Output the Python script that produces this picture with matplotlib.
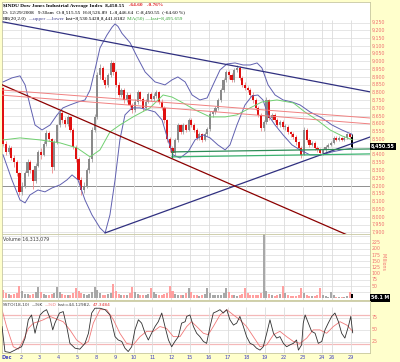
import matplotlib
matplotlib.use("Agg")
import matplotlib.pyplot as plt
import matplotlib.transforms as mtransforms
import numpy as np

W, H = 400, 362

# hourly bars, Dec 1 2008 .. Dec 29 2008
day_labels = ["Dec", "2", "3", "4", "5", "8", "9", "10", "11", "12", "15", "16",
              "17", "18", "19", "22", "23", "24", "26", "29"]
day_start = [0, 7, 14, 21, 28, 35, 42, 49, 56, 63, 70, 77, 84, 91, 98, 105,
             112, 119, 123, 130]

first_open = 8829
closes = [8470, 8420, 8440, 8380, 8350, 8280, 8160,
          8200, 8280, 8350, 8300, 8230, 8330, 8420,
          8400, 8470, 8540, 8500, 8320, 8480, 8590,
          8670, 8620, 8600, 8640, 8560, 8450, 8370,
          8240, 8170, 8200, 8300, 8370, 8560, 8640,
          8910, 8960, 8880, 8850, 8910, 8990, 8930,
          8850, 8785, 8815, 8750, 8785, 8720, 8690,
          8740, 8800, 8760, 8700, 8740, 8790, 8760,
          8780, 8800, 8740, 8700, 8620, 8500, 8440,
          8410, 8495, 8590, 8545, 8590, 8560, 8620,
          8590, 8560, 8510, 8530, 8495, 8530, 8565,
          8660, 8675, 8700, 8750, 8815, 8880, 8930,
          8910, 8880, 8945, 8960, 8895, 8850, 8830,
          8815, 8785, 8750, 8700, 8655, 8570, 8610,
          8750, 8635, 8655, 8625, 8590, 8610, 8580,
          8580, 8545, 8530, 8515, 8480, 8445, 8400,
          8560, 8495, 8465, 8475, 8445, 8430, 8410,
          8430, 8450, 8465, 8475,
          8510, 8495, 8510, 8495, 8510, 8530, 8515,
          8450.55]
highs = [8835, 8490, 8460, 8455, 8400, 8365, 8290,
         8225, 8295, 8370, 8365, 8310, 8345, 8430,
         8440, 8485, 8560, 8555, 8510, 8495, 8600,
         8690, 8685, 8640, 8655, 8650, 8570, 8465,
         8385, 8255, 8225, 8315, 8385, 8575, 8660,
         8930, 8985, 8970, 8900, 8925, 9010, 9000,
         8945, 8870, 8830, 8830, 8800, 8795, 8735,
         8755, 8815, 8810, 8770, 8755, 8805, 8800,
         8795, 8815, 8810, 8755, 8710, 8630, 8515,
         8455, 8510, 8605, 8600, 8605, 8600, 8635,
         8635, 8605, 8570, 8545, 8540, 8545, 8580,
         8680, 8690, 8715, 8765, 8830, 8895, 8945,
         8945, 8925, 8955, 8980, 8970, 8905, 8865,
         8845, 8830, 8800, 8765, 8715, 8665, 8625,
         8770, 8760, 8670, 8665, 8635, 8625, 8620,
         8595, 8590, 8555, 8545, 8525, 8490, 8455,
         8575, 8570, 8505, 8490, 8485, 8455, 8440,
         8440, 8460, 8475, 8485,
         8520, 8520, 8520, 8515, 8520, 8540, 8535,
         8530]
lows = [8455, 8400, 8405, 8365, 8320, 8260, 8140,
        8140, 8185, 8265, 8285, 8180, 8215, 8320,
        8370, 8390, 8455, 8485, 8280, 8300, 8470,
        8580, 8605, 8580, 8585, 8545, 8435, 8350,
        8215, 8140, 8155, 8185, 8285, 8355, 8545,
        8630, 8890, 8865, 8830, 8835, 8900, 8915,
        8835, 8770, 8770, 8735, 8740, 8705, 8670,
        8675, 8725, 8745, 8680, 8685, 8730, 8745,
        8745, 8765, 8725, 8685, 8605, 8480, 8420,
        8380, 8395, 8480, 8530, 8530, 8545, 8550,
        8575, 8545, 8495, 8495, 8480, 8485, 8520,
        8555, 8640, 8660, 8690, 8740, 8800, 8865,
        8890, 8865, 8870, 8930, 8880, 8835, 8815,
        8800, 8770, 8735, 8685, 8640, 8550, 8555,
        8600, 8620, 8620, 8610, 8575, 8575, 8565,
        8560, 8535, 8515, 8500, 8465, 8430, 8380,
        8395, 8480, 8450, 8455, 8430, 8415, 8395,
        8400, 8420, 8440, 8455,
        8470, 8485, 8485, 8485, 8485, 8500, 8505,
        8442]
volume = [35, 20, 18, 15, 17, 22, 50,
          28, 18, 16, 14, 18, 24, 45,
          25, 18, 15, 14, 16, 22, 45,
          24, 17, 14, 13, 15, 20, 40,
          30, 22, 17, 15, 18, 25, 45,
          32, 20, 15, 14, 16, 22, 60,
          28, 18, 14, 13, 15, 20, 45,
          25, 16, 13, 12, 14, 18, 40,
          24, 16, 13, 12, 16, 22, 50,
          30, 18, 14, 13, 15, 20, 40,
          24, 15, 12, 11, 13, 18, 40,
          22, 15, 12, 12, 15, 22, 40,
          24, 15, 12, 11, 13, 18, 40,
          22, 15, 12, 12, 14, 20, 300,
          30, 16, 12, 11, 13, 18, 50,
          20, 13, 10, 9, 11, 15, 40,
          20, 13, 10, 9, 10, 14, 40,
          14, 8, 7, 25,
          12, 7, 6, 5, 6, 8, 25,
          16.3]

# Bollinger bands / MA(50) (bar position, price)
bb_x = [0.4, 3.7, 6.7, 8.6, 10.4, 12.3, 14.9, 17.9, 20.5, 22.7, 25.3, 28.3, 30.9,
        32.8, 34.6, 36.5, 39.1, 41.0, 42.1, 43.2, 44.7, 47.7, 50.3, 53.3, 57.0,
        60.7, 63.3, 65.5, 68.2, 70.8, 73.7, 76.4, 78.6, 81.2, 83.8, 86.8, 89.8,
        92.4, 95.0, 96.8, 99.1, 101.7, 104.7, 108.0, 111.0, 114.7, 119.2, 122.9,
        126.6, 130.4]
bb_upper = [8868, 8894, 8907, 8849, 8720, 8591, 8559, 8591, 8656, 8701, 8720, 8739,
            8752, 8816, 8945, 9087, 9170, 9220, 9241, 9225, 9180, 9120, 9030, 8932,
            8868, 8849, 8881, 8900, 8868, 8784, 8752, 8765, 8849, 8945, 8984, 8990,
            8977, 8977, 8990, 8958, 8849, 8784, 8752, 8739, 8720, 8675, 8636, 8591,
            8559, 8531]
bbl_x = [0.4, 3.7, 6.7, 8.6, 10.4, 13.4, 16.0, 18.6, 21.6, 24.2, 26.1, 28.3, 30.9,
         33.5, 36.5, 38.4, 40.2, 42.1, 43.9, 45.8, 48.4, 51.4, 54.4, 57.0, 59.6,
         61.8, 63.7, 66.3, 69.3, 71.9, 74.9, 77.5, 80.4, 83.1, 84.9, 87.5, 90.5,
         93.1, 95.3, 97.2, 99.1, 101.7, 104.7, 108.0, 111.0, 114.7, 119.2, 122.9,
         126.6, 130.4]
bb_lower = [8399, 8238, 8109, 8090, 8141, 8173, 8161, 8186, 8206, 8238, 8270, 8238,
            8109, 8013, 7929, 7897, 8013, 8238, 8495, 8656, 8701, 8701, 8688, 8675,
            8624, 8495, 8399, 8379, 8418, 8495, 8527, 8508, 8463, 8431, 8463, 8591,
            8720, 8778, 8784, 8752, 8656, 8591, 8527, 8463, 8431, 8399, 8399, 8418,
            8431, 8442]
ma_x = [0.4, 6.7, 14.2, 21.6, 27.9, 32.8, 36.5, 40.2, 43.9, 48.8, 55.1, 60.0, 63.3,
        67.4, 71.9, 77.5, 83.1, 87.5, 92.4, 96.8, 102.4, 108.5, 112.8, 117.3, 122.2,
        126.6, 130.4]
ma50 = [8495, 8508, 8495, 8476, 8444, 8386, 8431, 8546, 8591, 8643, 8701, 8784, 8771,
        8733, 8688, 8643, 8643, 8656, 8701, 8739, 8752, 8733, 8675, 8624, 8559, 8521,
        8496]

# slow stochastics %K / %D (bar position, value)
k_x = [0, 1.1, 3.0, 4.8, 6.1, 7.3, 8.6, 9.8, 11.0, 12.3, 12.9, 14.2, 15.4, 16.6, 17.9,
       18.9, 19.7, 21.4, 22.8, 24.1, 25.3, 27.2, 29.0, 30.9, 32.2, 33.4, 34.6, 36.5,
       38.4, 40.2, 42.1, 43.3, 44.6, 45.8, 47.0, 48.3, 49.5, 50.8, 52.0, 53.3, 54.5,
       55.7, 57.0, 58.2, 59.5, 60.7, 62.0, 63.2, 64.4, 65.7, 66.9, 68.2, 68.8, 70.0,
       71.3, 72.5, 73.7, 75.0, 76.2, 77.5, 78.7, 79.9, 81.2, 82.4, 83.7, 84.9, 86.2,
       87.4, 88.6, 89.9, 91.1, 92.4, 93.6, 94.8, 96.1, 97.3, 98.6, 99.8, 101.1, 102.3,
       103.5, 104.8, 106.0, 107.3, 108.5, 109.7, 110.4, 111.6, 112.2, 112.9, 114.1,
       115.3, 116.6, 117.8, 119.1, 120.3, 121.5, 122.8, 124.0, 125.3, 126.5, 127.7,
       129.0, 129.9, 130.6]
pct_k = [57, 5, 3, 8, 12, 15, 33, 71, 81, 43, 57, 81, 88, 92, 74, 50, 64, 85, 88, 57,
         22, 12, 10, 22, 43, 85, 95, 95, 92, 81, 36, 29, 26, 12, 5, 15, 50, 71, 64, 43,
         29, 43, 57, 67, 85, 57, 29, 15, 26, 36, 64, 67, 78, 81, 57, 43, 36, 26, 22, 57,
         85, 88, 92, 85, 92, 71, 60, 64, 78, 57, 36, 22, 19, 12, 8, 15, 43, 71, 43, 33,
         36, 22, 15, 19, 22, 29, 8, 19, 64, 81, 64, 47, 43, 22, 26, 50, 64, 78, 85, 67,
         43, 33, 57, 78, 44]
d_x = [0, 1.7, 4.2, 6.1, 8.0, 9.8, 11.7, 13.5, 15.4, 17.9, 21.0, 22.8, 25.3, 27.8,
       30.3, 32.2, 34.0, 36.5, 39.0, 41.5, 43.9, 46.4, 48.9, 51.4, 53.9, 56.4, 58.8,
       61.3, 63.8, 66.3, 68.8, 70.6, 72.5, 75.0, 76.8, 78.7, 81.2, 83.7, 86.2, 88.6,
       91.1, 93.6, 96.1, 98.6, 101.1, 103.5, 106.0, 108.5, 111.0, 113.5, 115.9, 118.4,
       120.9, 123.4, 125.9, 128.4, 130.6]
pct_d = [92, 57, 15, 10, 29, 53, 64, 67, 71, 78, 71, 67, 50, 29, 19, 26, 64, 92, 92,
         71, 43, 22, 19, 36, 47, 47, 57, 53, 36, 36, 57, 67, 57, 43, 40, 57, 81, 92,
         81, 71, 57, 36, 15, 19, 40, 47, 36, 26, 22, 33, 50, 50, 43, 57, 67, 60, 47]

price_ticks = list(range(7900, 9251, 50))

# trend lines drawn on the chart (bar position, price)
navy_top = ([0.4, 137.1], [9254, 8804])
navy_low = ([38.4, 137.1], [7897, 8514])
red_down = ([-0.7, 137.1], [8855, 7820])
pink_a = ([-0.7, 137.1], [8817, 8636])
pink_b = ([-0.7, 137.1], [8784, 8598])
green_a = ([63.3, 137.1], [8418, 8437])
green_b = ([63.3, 137.1], [8386, 8405])

# ---------------------------------------------------------------
YELLOW = "#FFFFCC"
GRID = "#DCDCDC"
SALMON = "#F07070"
BLUE = "#4040C0"

plt.rcParams["font.family"] = ["DejaVu Sans"]
fig = plt.figure(figsize=(W / 100, H / 100), dpi=100, facecolor=YELLOW)
renderer = fig.canvas.get_renderer()


def box(x0, y0, x1, y1):
    return [x0 / W, 1 - y1 / H, (x1 - x0) / W, (y1 - y0) / H]


def text_run(x, y, parts, **kw):
    # write coloured pieces one after another on a line (pixel coords)
    for s, colr in parts:
        t = fig.text(x / W, 1 - y / H, s, color=colr, va="center", ha="left", **kw)
        x += t.get_window_extent(renderer).width + 1.5


XMAX = 368 / 2.685
ax_p = fig.add_axes(box(2, 2, 370, 234))
ax_v = fig.add_axes(box(2, 234, 370, 300))
ax_s = fig.add_axes(box(2, 301, 370, 353))

for ax in (ax_p, ax_v, ax_s):
    ax.set_facecolor("white")
    ax.set_xlim(0, XMAX)
    ax.set_xticks([])
    ax.set_yticks([])
    for s in ax.spines.values():
        s.set_color("#C8C8A0")
        s.set_linewidth(0.6)

n = len(closes)
xs = np.arange(n) + 0.5
c = np.array(closes, dtype=float)
o = np.concatenate([[first_open], c[:-1]])
up = c >= o
col = np.where(up, "#8A8A8A", "#E01010")
col[-1] = "black"
wick = np.where(up, "#A0A0A0", "#F08A8A")
wick[-1] = "black"

# price panel
ax_p.set_ylim(7890, 9382)
for p in price_ticks:
    ax_p.axhline(p, color=GRID, lw=0.5, zorder=0)
ax_p.axhline(8200, color="#909090", lw=0.7, zorder=0)
ax_p.vlines(day_start[1:], 7890, 9268, color=GRID, lw=0.6, zorder=0)

ax_p.vlines(xs, lows, highs, color=wick, lw=0.6, zorder=2)
ax_p.bar(xs, np.maximum(np.abs(c - o), 4), bottom=np.minimum(c, o), width=0.8,
         color=col, linewidth=0, zorder=3)

ax_p.plot(bb_x, bb_upper, color="#6060B0", lw=0.7, zorder=4)
ax_p.plot(bbl_x, bb_lower, color="#6060B0", lw=0.7, zorder=4)
ax_p.plot(ma_x, ma50, color="#70D070", lw=0.7, zorder=4)

ax_p.plot(*navy_top, color="#303080", lw=0.9, zorder=5)
ax_p.plot(*navy_low, color="#303080", lw=0.9, zorder=5)
ax_p.plot(*red_down, color="#8B0000", lw=0.9, zorder=5)
ax_p.plot(*pink_a, color="#F08080", lw=0.7, zorder=5)
ax_p.plot(*pink_b, color="#F08080", lw=0.7, zorder=5)
ax_p.plot(*green_a, color="#2E8B57", lw=0.9, zorder=5)
ax_p.plot(*green_b, color="#3CB371", lw=0.9, zorder=5)
ax_p.plot([green_a[0][0]] * 2, [green_b[1][0], green_a[1][0]], color="#2E8B57",
          lw=0.8, zorder=5)

tr_p = mtransforms.blended_transform_factory(ax_p.transAxes, ax_p.transData)
for p in price_ticks:
    if abs(p - c[-1]) < 30:
        continue
    ax_p.text(1.005, p, f"{p:,}", transform=tr_p, fontsize=3.4, color=SALMON,
              va="center", ha="left", clip_on=False)
ax_p.text(1.003, c[-1], f"{c[-1]:,.2f}", transform=tr_p, fontsize=3.4, color="white",
          weight="bold", va="center", ha="left", clip_on=False,
          bbox=dict(facecolor="black", edgecolor="none", pad=0.8))

# volume panel
ax_v.set_ylim(-6.5, 260)
for v in range(25, 251, 25):
    ax_v.axhline(v, color=GRID, lw=0.5, zorder=0)
ax_v.vlines(day_start[1:], -6.5, 260, color=GRID, lw=0.6, zorder=0)
vcol = np.where(up, "#A8A8A8", "#FFA0A0")
vcol[-1] = "black"
ax_v.bar(xs, volume, width=0.75, color=vcol, linewidth=0, zorder=2)
tr_v = mtransforms.blended_transform_factory(ax_v.transAxes, ax_v.transData)
for v in range(50, 226, 25):
    ax_v.text(1.005, v, str(v), transform=tr_v, fontsize=3.4, color=SALMON,
              va="center", ha="left", clip_on=False)
ax_v.text(1.003, 2, "56.1 M", transform=tr_v, fontsize=3.4, color="white",
          weight="bold", va="center", ha="left", clip_on=False,
          bbox=dict(facecolor="black", edgecolor="none", pad=0.8))
fig.text(383 / W, 1 - 262 / H, "Millions", rotation=270, fontsize=3.4, color=SALMON,
         ha="center", va="center")
ax_v.text(0.003, 0.96, "Volume 16,313,079", transform=ax_v.transAxes, fontsize=3.4,
          color="#404040", va="top", ha="left")

# stochastics panel
ax_s.set_ylim(2, 110)
for v in (25, 50, 75):
    ax_s.axhline(v, color=GRID, lw=0.5, zorder=0)
for v in (20, 80):
    ax_s.axhline(v, color="#F4B8B8", lw=0.9, zorder=0)
ax_s.vlines(day_start[1:], 2, 97, color=GRID, lw=0.6, zorder=0)
ax_s.plot(d_x, pct_d, color="#F07878", lw=0.6, zorder=2)
ax_s.plot(k_x, pct_k, color="#303030", lw=0.6, zorder=3)
tr_s = mtransforms.blended_transform_factory(ax_s.transAxes, ax_s.transData)
for v in (25, 50, 75):
    ax_s.text(1.005, v, str(v), transform=tr_s, fontsize=3.4, color=SALMON,
              va="center", ha="left", clip_on=False)
text_run(3, 304.5, [("SSTO(18,10)", "#404040"), ("\u2014%K", "#303030"),
                    ("\u2014%D", "#F07878"), ("last=44.12982,", "#404040"),
                    ("47.3484", "#E03030")], fontsize=3.2)

# date labels
for i, (b, lab) in enumerate(zip(day_start, day_labels)):
    xp = 2 + b * 2.685
    if i == 0:
        fig.text(7 / W, 1 - 357.5 / H, lab, fontsize=3.6, color=BLUE, weight="bold",
                 ha="center", va="center")
    else:
        fig.text(xp / W, 1 - 357.5 / H, lab, fontsize=3.6, color=BLUE,
                 ha="center", va="center")

# header lines
serif = ["Liberation Serif", "DejaVu Serif"]
text_run(3, 5.5, [("$INDU Dow Jones Industrial Average Index  8,450.55", "black"),
                  ("  -64.60   -0.76%", "#E02020")],
         fontsize=3.8, weight="bold", family=serif)
fig.text(3 / W, 1 - 12.5 / H,
         "D: 12/29/2008   9:30am  O:8,515.55  H:8,526.89  L:8,446.64  C:8,450.55  (-64.60 %)",
         fontsize=3.8, family=serif, va="center", ha="left")
text_run(3, 19, [("BB(20,2.0)", "black"), ("\u2014upper \u2014lower", "#404090"),
                 ("last=8,530.5428,8,441.8182", "black"),
                 ("MA(50) \u2014last=8,495.659", "#30A030")],
         fontsize=3.8, family=serif)

fig.savefig("out.png", dpi=100, facecolor=YELLOW)
